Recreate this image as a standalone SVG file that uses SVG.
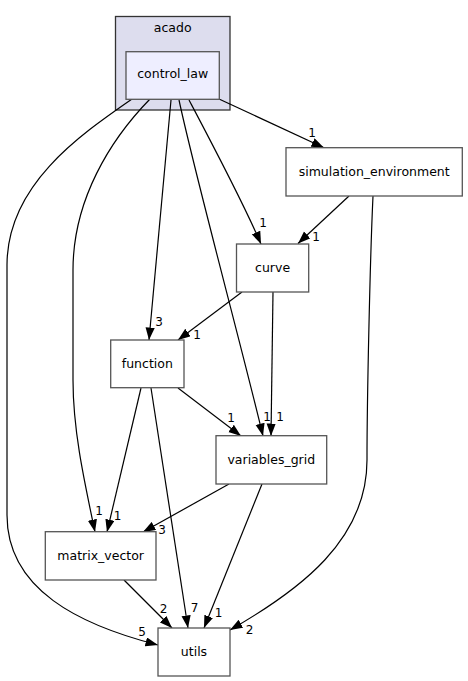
<svg xmlns="http://www.w3.org/2000/svg" width="468" height="681" viewBox="0 0 468 681">
<style>
.node rect{fill:#ffffff;stroke:#555555;stroke-width:1.3}
.txt{font-family:"DejaVu Sans",sans-serif;font-size:12.5px;fill:#000;text-anchor:middle}
.lbl{font-family:"DejaVu Sans",sans-serif;font-size:12px;fill:#000;text-anchor:middle}
.edge{fill:none;stroke:#000;stroke-width:1.2;marker-end:url(#arr)}
</style>
<defs>
<marker id="arr" markerUnits="userSpaceOnUse" markerWidth="14" markerHeight="10" refX="12.5" refY="4.6" orient="auto">
<path d="M0,0 L12.5,4.6 L0,9.2 z" fill="#000"/>
</marker>
</defs>
<rect width="468" height="681" fill="#ffffff"/>
<g id="cluster_acado">
<rect x="115.5" y="16.5" width="114.5" height="93.5" fill="#ddddee" stroke="#333333" stroke-width="1.3"/>
<text class="txt" x="172.7" y="32">acado</text>
</g>
<g id="connectors">
<path class="edge" d="M219,99 L324,147.7"/>
<path class="edge" d="M189,100 C208,136 242,200 261,244"/>
<path class="edge" d="M171,100 L149,340"/>
<path class="edge" d="M179,100 C195,175 240,340 263,436"/>
<path class="edge" d="M150,99 C110,140 73,200 73,270 L73,380 C73,430 84,480 95,532"/>
<path class="edge" d="M132,99 C80,135 7,185 7,265 L7,515 C7,590 80,625 158,645"/>
<path class="edge" d="M349,196 L298,243.5"/>
<path class="edge" d="M373,196 C370,260 367,400 367,460 C367,540 300,590 230,630"/>
<path class="edge" d="M242,292 L178,340"/>
<path class="edge" d="M273,292 L271,436"/>
<path class="edge" d="M178,388 L241,436"/>
<path class="edge" d="M141,388 L107,532"/>
<path class="edge" d="M151,388 L188,628"/>
<path class="edge" d="M229,484 L143,532"/>
<path class="edge" d="M262,484 L204,628"/>
<path class="edge" d="M124,580 L172,628"/>
<text class="lbl" x="312" y="137">1</text>
<text class="lbl" x="263" y="227">1</text>
<text class="lbl" x="316" y="241">1</text>
<text class="lbl" x="159" y="326">3</text>
<text class="lbl" x="197" y="339">1</text>
<text class="lbl" x="231" y="421.5">1</text>
<text class="lbl" x="267" y="421">1</text>
<text class="lbl" x="280" y="421">1</text>
<text class="lbl" x="99" y="515">1</text>
<text class="lbl" x="117.5" y="519.5">1</text>
<text class="lbl" x="162" y="534">3</text>
<text class="lbl" x="163.5" y="612.5">2</text>
<text class="lbl" x="194.5" y="612">7</text>
<text class="lbl" x="218.5" y="617">1</text>
<text class="lbl" x="142" y="636">5</text>
<text class="lbl" x="249.5" y="634">2</text>
</g>
<g id="control_law" class="node">
<rect x="126" y="51.7" width="93.3" height="47.6" style="fill:#eeeeff"/>
<text class="txt" x="172.7" y="78">control_law</text>
</g>
<g id="simulation_environment" class="node">
<rect x="286" y="147.7" width="176.3" height="48.3"/>
<text class="txt" x="374.2" y="175.5">simulation_environment</text>
</g>
<g id="curve" class="node">
<rect x="236.5" y="244" width="72.2" height="48"/>
<text class="txt" x="272.6" y="271.5">curve</text>
</g>
<g id="function" class="node">
<rect x="110.7" y="340" width="73.3" height="47.7"/>
<text class="txt" x="147.3" y="367.5">function</text>
</g>
<g id="variables_grid" class="node">
<rect x="216" y="435.7" width="110.7" height="48.3"/>
<text class="txt" x="271.3" y="463.5">variables_grid</text>
</g>
<g id="matrix_vector" class="node">
<rect x="45.3" y="531.7" width="110.7" height="48.3"/>
<text class="txt" x="100.7" y="559.5">matrix_vector</text>
</g>
<g id="utils" class="node">
<rect x="158" y="628" width="72" height="48"/>
<text class="txt" x="194" y="656">utils</text>
</g>
</svg>
